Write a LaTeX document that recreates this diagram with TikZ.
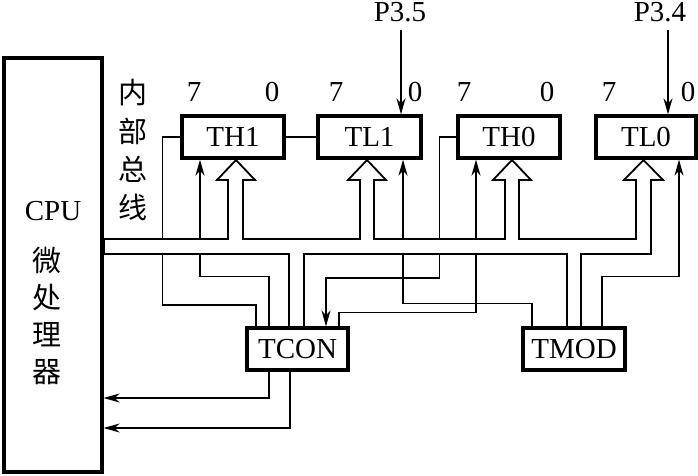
\documentclass[tikz,border=0pt]{standalone}
\usepackage{fontspec}
\setmainfont{Liberation Serif}
\newfontfamily\cjk{Noto Sans CJK SC}
\usetikzlibrary{arrows.meta,calc,positioning}

\begin{document}
\begin{tikzpicture}[
  x=1pt,y=1pt,
  font=\fontsize{29}{32}\selectfont,
  reg/.style={draw,line width=3.2pt,minimum width=102pt,minimum height=42pt,inner sep=0pt},
  wire/.style={line width=1.1pt},
  ctl/.style={line width=1.8pt},
  arr/.style={-{Stealth[length=16pt,width=9pt,inset=5pt]}},
  bus/.style={draw,fill=white,line width=1.8pt,line join=miter},
  hanzi/.style={font=\cjk\fontsize{29}{32}\selectfont}
]
  \useasboundingbox (0,0) rectangle (698,-475);

  % CPU and registers
  \node[draw,line width=3.2pt,minimum width=98pt,minimum height=414pt] (cpu) at (53,-265) {};
  \node (cpulbl) at (53,-211) {CPU};
  \foreach \c [count=\i] in {微,处,理,器}
    \node[hanzi] (cpu\i) at (47,{-260-37.3*(\i-1)}) {\c};
  \foreach \c [count=\i] in {内,部,总,线}
    \node[hanzi] (nb\i) at (133,{-93-38*(\i-1)}) {\c};

  \node[reg] (th1) at (233,-137) {TH1};
  \node[reg,minimum width=103pt] (tl1) at (369.5,-137) {TL1};
  \node[reg] (th0) at (509,-137) {TH0};
  \node[reg,minimum width=100pt] (tl0) at (646,-137) {TL0};
  \node[reg,minimum width=101pt] (tcon) at (297.5,-349) {TCON};
  \node[reg] (tmod) at (574,-349) {TMOD};

  \foreach \x/\b [count=\i] in {194/7,272/0,336/7,415/0,464/7,547/0,609/7,688/0}
    \node (bit\i) at (\x,-92) {\b};

  \node (p35) at (400,-12) {P3.5};
  \node (p34) at (660,-12) {P3.4};
  \coordinate (out1) at (0,-398);
  \coordinate (out2) at (0,-428);

  % control lines
  \draw[ctl,arr] ([xshift=1pt,yshift=-5pt]p35.south) -- ([xshift=31.5pt]tl1.north);
  \draw[ctl,arr] ([xshift=8pt,yshift=-5pt]p34.south) -- ([xshift=22pt]tl0.north);
  \draw[wire] (th1.east) -- (tl1.west);
  \draw[wire] (th1.west) -- ++(-18,0) -- ++(0,-168) -| ([xshift=-41.5pt]tcon.north);
  \draw[ctl,arr] ([xshift=-28.5pt]tcon.north) -- ++(0,50) -| ([xshift=-33pt]th1.south);
  \draw[wire,arr] (th0.west) -- ++(-17,0) -- ++(0,-141) -| ([xshift=28.5pt]tcon.north);
  \draw[ctl,arr] ([xshift=41.5pt]tcon.north) -- ++(0,14) -| ([xshift=-33pt]th0.south);
  \draw[ctl,arr] ([xshift=-42pt]tmod.north) -- ++(0,23) -| ([xshift=33.5pt]tl1.south);
  \draw[wire,arr] ([xshift=28pt]tmod.north) -- ++(0,50) -| ([xshift=33pt]tl0.south);
  \draw[wire,arr] ([xshift=-28.5pt]tcon.south) |- (cpu.east |- out1);
  \draw[wire,arr] ([xshift=-7.5pt]tcon.south) |- (cpu.east |- out2);

  % internal bus
  \path[bus] (104,-239) -- (228,-239) -- (228,-180) -- (217,-180) -- (236,-160) -- (255,-180) -- (243,-180) -- (243,-239)
    -- (360,-239) -- (360,-180) -- (348,-180) -- (367,-160) -- (386,-180) -- (374,-180) -- (374,-239)
    -- (505,-239) -- (505,-180) -- (493,-180) -- (512,-160) -- (531,-180) -- (519,-180) -- (519,-239)
    -- (636,-239) -- (636,-180) -- (624,-180) -- (643.5,-160) -- (663,-180) -- (651,-180) -- (651,-254)
    -- (581,-254) -- (581,-327) -- (567,-327) -- (567,-254)
    -- (304,-254) -- (304,-327) -- (289,-327) -- (289,-254)
    -- (104,-254) -- cycle;
\end{tikzpicture}
\end{document}
